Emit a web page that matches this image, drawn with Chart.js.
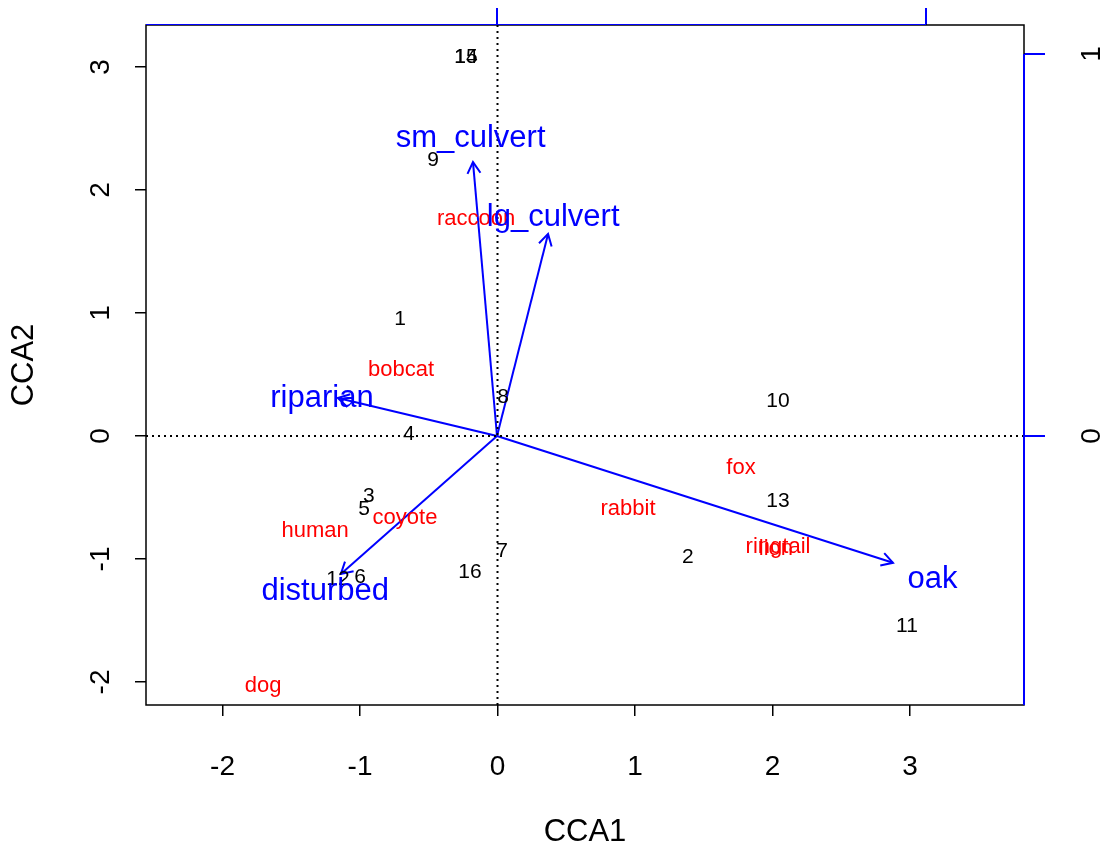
<!DOCTYPE html>
<html>
<head>
<meta charset="utf-8">
<script src="https://cdn.jsdelivr.net/npm/chart.js@4/dist/chart.umd.min.js"></script>
<style>
  html, body { margin: 0; padding: 0; background: #fff; }
  #wrap { position: relative; width: 1102px; height: 850px; }
</style>
</head>
<body>
<div id="wrap"><canvas id="cca"></canvas></div>
<script>
// site scores (black numbers)
const siteLabels = ['1','2','3','4','5','6','7','8','9','10','11','12','13','14','15','16'];
const siteCCA1 = [-0.709, 1.385, -0.935, -0.644, -0.971, -1.0, 0.033, 0.04, -0.469, 2.04, 2.978, -1.16, 2.04, -0.229, -0.229, -0.2];
const siteCCA2 = [0.967, -0.967, -0.472, 0.033, -0.577, -1.13, -0.919, 0.333, 2.26, 0.30, -1.528, -1.146, -0.512, 3.098, 3.098, -1.089];

// species scores (red)
const speciesLabels = ['raccoon','bobcat','fox','rabbit','coyote','human','dog','ringtail','lion'];
const speciesCCA1 = [-0.156, -0.702, 1.771, 0.949, -0.673, -1.327, -1.705, 2.04, 2.025];
const speciesCCA2 = [1.780, 0.553, -0.244, -0.577, -0.650, -0.756, -2.016, -0.886, -0.90];

// environmental biplot arrows (blue), on the top/right axes
const envLabels = ['sm_culvert','lg_culvert','riparian','disturbed','oak'];
const envCCA1 = [-0.056, 0.119, -0.371, -0.364, 0.923];
const envCCA2 = [0.717, 0.529, 0.0995, -0.361, -0.332];

const xTicks = [-2, -1, 0, 1, 2, 3];
const yTicks = [-2, -1, 0, 1, 2, 3];
const envTicks = [0, 1];

const FONT = "'Liberation Sans', Arial, sans-serif";
const BLUE = '#0000ff';

const toPoints = (xs, ys) => xs.map((v, i) => ({x: v, y: ys[i]}));

const datasets = [
  {label: 'sites', data: toPoints(siteCCA1, siteCCA2), pointRadius: 0, xAxisID: 'x', yAxisID: 'y'},
  {label: 'species', data: toPoints(speciesCCA1, speciesCCA2), pointRadius: 0, xAxisID: 'x', yAxisID: 'y'}
];
envLabels.forEach((name, i) => {
  datasets.push({
    label: name,
    data: [{x: 0, y: 0}, {x: envCCA1[i], y: envCCA2[i]}],
    showLine: true,
    borderColor: BLUE,
    borderWidth: 2,
    pointRadius: 0,
    xAxisID: 'x2',
    yAxisID: 'y2'
  });
});

function fixTicks(values) {
  return scale => { scale.ticks = values.map(v => ({value: v})); };
}

const biplotText = {
  id: 'biplotText',
  afterDraw(chart) {
    const ctx = chart.ctx;
    const a = chart.chartArea;
    const {x, y, x2, y2} = chart.scales;
    ctx.save();

    // dotted zero lines
    ctx.strokeStyle = '#000';
    ctx.lineWidth = 2;
    ctx.setLineDash([2, 4]);
    ctx.beginPath();
    ctx.moveTo(x.getPixelForValue(0), a.top);
    ctx.lineTo(x.getPixelForValue(0), a.bottom);
    ctx.moveTo(a.left, y.getPixelForValue(0));
    ctx.lineTo(a.right, y.getPixelForValue(0));
    ctx.stroke();
    ctx.setLineDash([]);

    // box
    ctx.lineWidth = 1.5;
    ctx.strokeRect(a.left, a.top, a.right - a.left, a.bottom - a.top);

    // blue axis lines (top one sits on the black box edge)
    ctx.strokeStyle = BLUE;
    ctx.lineWidth = 1;
    ctx.beginPath();
    ctx.moveTo(a.left, a.top - 0.5);
    ctx.lineTo(x2.getPixelForValue(1), a.top - 0.5);
    ctx.stroke();
    ctx.lineWidth = 2;
    ctx.beginPath();
    ctx.moveTo(a.right, y2.getPixelForValue(1));
    ctx.lineTo(a.right, a.bottom);
    ctx.stroke();

    // arrow heads
    ctx.lineWidth = 2;
    const ox = x2.getPixelForValue(0), oy = y2.getPixelForValue(0);
    envLabels.forEach((name, i) => {
      const tx = x2.getPixelForValue(envCCA1[i]);
      const ty = y2.getPixelForValue(envCCA2[i]);
      const ang = Math.atan2(ty - oy, tx - ox);
      const len = 13, spread = Math.PI / 6;
      ctx.beginPath();
      ctx.moveTo(tx - len * Math.cos(ang - spread), ty - len * Math.sin(ang - spread));
      ctx.lineTo(tx, ty);
      ctx.lineTo(tx - len * Math.cos(ang + spread), ty - len * Math.sin(ang + spread));
      ctx.stroke();
    });

    ctx.textAlign = 'center';
    ctx.textBaseline = 'middle';

    // site numbers
    ctx.fillStyle = '#000';
    ctx.font = '21px ' + FONT;
    siteLabels.forEach((t, i) => {
      ctx.fillText(t, x.getPixelForValue(siteCCA1[i]), y.getPixelForValue(siteCCA2[i]) + 2);
    });

    // species names
    ctx.fillStyle = '#ff0000';
    ctx.font = '22px ' + FONT;
    speciesLabels.forEach((t, i) => {
      ctx.fillText(t, x.getPixelForValue(speciesCCA1[i]), y.getPixelForValue(speciesCCA2[i]) + 2);
    });

    // env labels at 1.1 x arrow tip
    ctx.fillStyle = BLUE;
    ctx.font = '31px ' + FONT;
    envLabels.forEach((t, i) => {
      ctx.fillText(t, x2.getPixelForValue(envCCA1[i] * 1.1), y2.getPixelForValue(envCCA2[i] * 1.1) + 4);
    });

    // tick labels
    ctx.fillStyle = '#000';
    ctx.font = '28px ' + FONT;
    xTicks.forEach(v => ctx.fillText(String(v), x.getPixelForValue(v), 767));
    yTicks.forEach(v => {
      ctx.save();
      ctx.translate(101, y.getPixelForValue(v));
      ctx.rotate(-Math.PI / 2);
      ctx.fillText(String(v), 0, 0);
      ctx.restore();
    });
    envTicks.forEach(v => {
      ctx.save();
      ctx.translate(1092, y2.getPixelForValue(v));
      ctx.rotate(-Math.PI / 2);
      ctx.fillText(String(v), 0, 0);
      ctx.restore();
    });

    // axis titles
    ctx.font = '31px ' + FONT;
    ctx.fillText('CCA1', (a.left + a.right) / 2, 832);
    ctx.save();
    ctx.translate(24, (a.top + a.bottom) / 2);
    ctx.rotate(-Math.PI / 2);
    ctx.fillText('CCA2', 0, 0);
    ctx.restore();

    ctx.restore();
  }
};

new Chart(document.getElementById('cca'), {
  type: 'scatter',
  data: {datasets: datasets},
  options: {
    responsive: true,
    maintainAspectRatio: false,
    animation: false,
    layout: {padding: 0},
    plugins: {legend: {display: false}, tooltip: {enabled: false}},
    scales: {
      x: {
        type: 'linear', position: 'bottom', min: -2.5564, max: 3.8291,
        afterBuildTicks: fixTicks(xTicks),
        afterFit: s => { s.height = 145; },
        ticks: {display: false},
        border: {display: false},
        grid: {drawOnChartArea: false, color: '#000', lineWidth: 1.5, tickLength: 11}
      },
      y: {
        type: 'linear', position: 'left', min: -2.187, max: 3.3415,
        afterBuildTicks: fixTicks(yTicks),
        afterFit: s => { s.width = 146; },
        ticks: {display: false},
        border: {display: false},
        grid: {drawOnChartArea: false, color: '#000', lineWidth: 1.5, tickLength: 11}
      },
      x2: {
        type: 'linear', position: 'top', min: -0.8182, max: 1.2284,
        afterBuildTicks: fixTicks(envTicks),
        afterFit: s => { s.height = 25; },
        ticks: {display: false},
        border: {display: false},
        grid: {drawOnChartArea: false, color: BLUE, lineWidth: 2, tickLength: 17}
      },
      y2: {
        type: 'linear', position: 'right', min: -0.7042, max: 1.0759,
        afterBuildTicks: fixTicks(envTicks),
        afterFit: s => { s.width = 78; },
        ticks: {display: false},
        border: {display: false},
        grid: {drawOnChartArea: false, color: BLUE, lineWidth: 2, tickLength: 21}
      }
    }
  },
  plugins: [biplotText]
});
</script>
</body>
</html>
